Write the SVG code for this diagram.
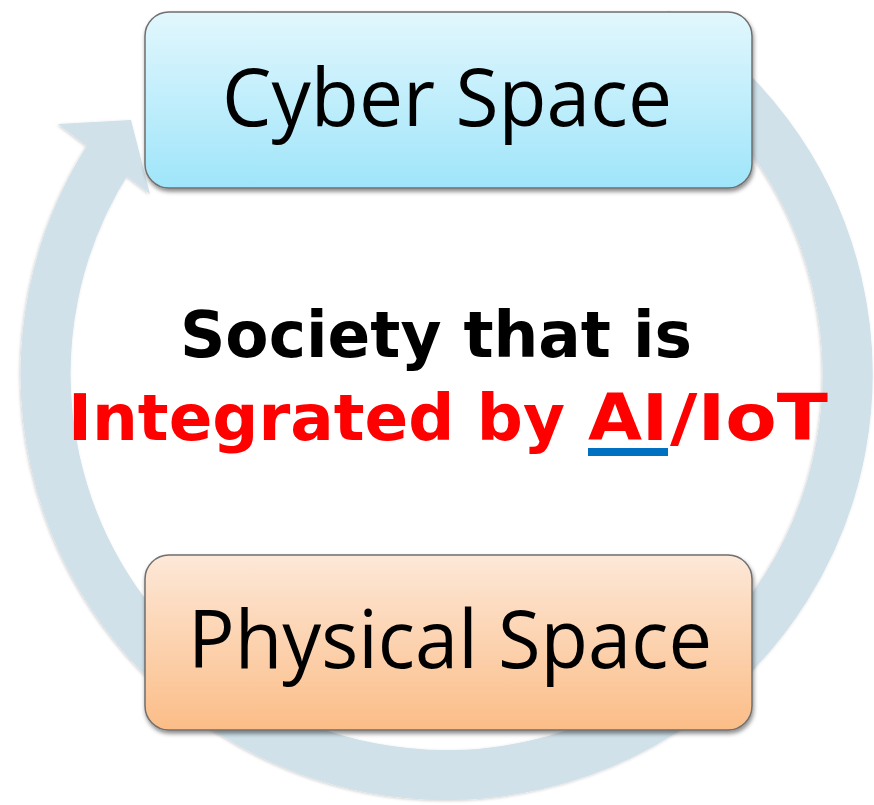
<svg xmlns="http://www.w3.org/2000/svg" width="874" height="805" viewBox="0 0 874 805">
  <defs>
    <linearGradient id="gCyber" x1="0" y1="0" x2="0" y2="1">
      <stop offset="0" stop-color="#e2f7fd"/>
      <stop offset="1" stop-color="#9fe5fa"/>
    </linearGradient>
    <linearGradient id="gPhys" x1="0" y1="0" x2="0" y2="1">
      <stop offset="0" stop-color="#fde8d8"/>
      <stop offset="1" stop-color="#fbbd87"/>
    </linearGradient>
    <filter id="shadow" x="-10%" y="-10%" width="120%" height="130%">
      <feDropShadow dx="1" dy="3" stdDeviation="2" flood-color="#000" flood-opacity="0.45"/>
    </filter>
    <filter id="ringShadow" x="-10%" y="-10%" width="120%" height="120%">
      <feDropShadow dx="-1" dy="1" stdDeviation="1.5" flood-color="#000" flood-opacity="0.18"/>
    </filter>
  </defs>
  <style>
    .ring { fill: none; stroke: #d0e1e9; stroke-width: 50; }
    .ringHead { fill: #d0e1e9; }
    .box { stroke: #6f6f6f; stroke-width: 1.5; filter: url(#shadow); }
    .boxText { font-family: "Open Sans", "Noto Sans", "Liberation Sans", sans-serif; font-size: 80px; fill: #000; text-anchor: middle; }
    .mid { font-family: "DejaVu Sans", "Liberation Sans", sans-serif; font-weight: bold; font-size: 64px; }
  </style>
  <rect width="874" height="805" fill="#ffffff"/>

  <g id="connectors" filter="url(#ringShadow)">
    <path class="ring" d="M 656 32 A 401 401 0 1 1 109.7 156.6"/>
    <polygon class="ringHead" points="58,124 131,120 150,194"/>
  </g>

  <g id="cyber-space">
    <rect class="box" x="145" y="12" width="607" height="176" rx="24" ry="24" fill="url(#gCyber)"/>
    <text class="boxText" x="447" y="126" textLength="450" lengthAdjust="spacingAndGlyphs">Cyber Space</text>
  </g>

  <g id="physical-space">
    <rect class="box" x="145" y="555" width="607" height="175" rx="24" ry="24" fill="url(#gPhys)"/>
    <text class="boxText" x="450" y="668" textLength="524" lengthAdjust="spacingAndGlyphs">Physical Space</text>
  </g>

  <g id="center-label">
    <text class="mid" x="436" y="357" fill="#000000" text-anchor="middle" textLength="512" lengthAdjust="spacingAndGlyphs">Society that is</text>
    <text class="mid" x="68" y="440" fill="#ff0000" textLength="497" lengthAdjust="spacingAndGlyphs">Integrated by</text>
    <text class="mid" x="588" y="440" fill="#ff0000" textLength="80" lengthAdjust="spacingAndGlyphs">AI</text>
    <text class="mid" x="670" y="440" fill="#ff0000" textLength="158" lengthAdjust="spacingAndGlyphs">/IoT</text>
    <rect x="588" y="448" width="80" height="8" fill="#0070c0"/>
  </g>
</svg>
